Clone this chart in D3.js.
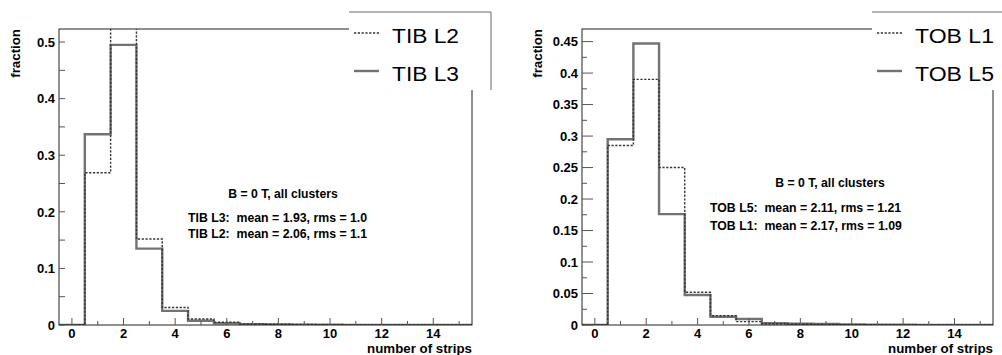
<!DOCTYPE html>
<html><head><meta charset="utf-8">
<script src="https://cdn.jsdelivr.net/npm/d3@7"></script>
<style>
html,body{margin:0;padding:0;background:#fff;}
svg{display:block;font-family:"Liberation Sans",Arial,Helvetica,sans-serif;}
</style></head>
<body><svg id="c" width="1002" height="355"></svg>
<script>
// ---- data ----
const binCenters = d3.range(0, 16); // number of strips 0..15
const tibL3 = [0, 0.337, 0.495, 0.135, 0.025, 0.0076, 0.003, 0.0015, 0.001, 0.0006, 0.0004, 0.0003, 0.0002, 0.0001, 0.0001, 0.0001];
const tibL2 = [0, 0.269, 0.53, 0.152, 0.031, 0.0106, 0.0048, 0.002, 0.0012, 0.0008, 0.0005, 0.0003, 0.0002, 0.0001, 0.0001, 0.0001];
const tobL5 = [0, 0.295, 0.447, 0.176, 0.0476, 0.0132, 0.0095, 0.0027, 0.002, 0.0015, 0.0008, 0.0005, 0.0003, 0.0002, 0.0001, 0.0001];
const tobL1 = [0, 0.285, 0.39, 0.25, 0.052, 0.0148, 0.0053, 0.002, 0.0015, 0.0008, 0.0005, 0.0003, 0.0002, 0.0001, 0.0001, 0.0001];
const xTickLabels = [0, 2, 4, 6, 8, 10, 12, 14];
const leftYTicks = [0, 0.1, 0.2, 0.3, 0.4, 0.5];
const rightYTicks = [0, 0.05, 0.1, 0.15, 0.2, 0.25, 0.3, 0.35, 0.4, 0.45];
const leftNames = ["TIB L2", "TIB L3"];
const rightNames = ["TOB L1", "TOB L5"];
const leftNotes = ["B = 0 T, all clusters", "TIB L3:  mean = 1.93, rms = 1.0", "TIB L2:  mean = 2.06, rms = 1.1"];
const rightNotes = ["B = 0 T, all clusters", "TOB L5:  mean = 2.11, rms = 1.21", "TOB L1:  mean = 2.17, rms = 1.09"];

const svg = d3.select("#c");

function panel(cfg, idx) {
  const g = svg.append("g");
  const x = d3.scaleLinear().domain([-0.5, 15.5]).range([cfg.x0, cfg.x1]);
  const y = d3.scaleLinear().domain([0, cfg.ymax]).range([cfg.y1, cfg.y0]);
  const clipId = "clip" + idx;
  svg.append("defs").append("clipPath").attr("id", clipId)
    .append("rect").attr("x", cfg.x0).attr("y", cfg.y0).attr("width", cfg.x1 - cfg.x0).attr("height", cfg.y1 - cfg.y0);

  // step path
  function stepPath(vals) {
    const p = d3.path();
    vals.forEach((v, i) => {
      const xl = x(binCenters[i] - 0.5), xr = x(binCenters[i] + 0.5);
      if (i === 0) p.moveTo(xl, y(v)); else p.lineTo(xl, y(v));
      p.lineTo(xr, y(v));
    });
    return p.toString();
  }
  const hg = g.append("g").attr("clip-path", `url(#${clipId})`);
  hg.append("path").attr("d", stepPath(cfg.solid)).attr("fill", "none")
    .attr("stroke", "#737373").attr("stroke-width", 2.4);
  hg.append("path").attr("d", stepPath(cfg.dotted)).attr("fill", "none")
    .attr("stroke", "#333").attr("stroke-width", 1.4).attr("stroke-dasharray", "2.2,1.6");

  // frame
  g.append("rect").attr("x", cfg.x0).attr("y", cfg.y0).attr("width", cfg.x1 - cfg.x0).attr("height", cfg.y1 - cfg.y0)
    .attr("fill", "none").attr("stroke", "#222").attr("stroke-width", 1);

  // y ticks (inside)
  const yMinor = d3.range(0, cfg.ymax, cfg.minorStep);
  yMinor.forEach(v => {
    const major = cfg.yTicks.some(t => Math.abs(t - v) < 1e-9);
    g.append("line").attr("x1", cfg.x0).attr("x2", cfg.x0 + (major ? cfg.majorLen : cfg.minorLen))
      .attr("y1", y(v)).attr("y2", y(v)).attr("stroke", "#555").attr("stroke-width", 1);
  });
  cfg.yTicks.forEach(v => {
    g.append("text").attr("x", cfg.x0 - 4).attr("y", y(v) + 4.8).attr("text-anchor", "end")
      .attr("font-size", 13).attr("font-weight", "bold").text(String(v));
  });
  // x ticks
  binCenters.forEach(v => {
    const major = v % 2 === 0;
    g.append("line").attr("x1", x(v)).attr("x2", x(v)).attr("y1", cfg.y1).attr("y2", cfg.y1 - (major ? 7 : 4))
      .attr("stroke", "#555").attr("stroke-width", 1);
  });
  xTickLabels.forEach(v => {
    g.append("text").attr("x", x(v)).attr("y", 337.5).attr("text-anchor", "middle")
      .attr("font-size", 13).attr("font-weight", "bold").text(String(v));
  });
  // axis titles
  g.append("text").attr("x", cfg.x1).attr("y", 353).attr("text-anchor", "end")
    .attr("font-size", 13.3).attr("font-weight", "bold").text("number of strips");
  g.append("text").attr("transform", `translate(${cfg.ylabX},${cfg.y0}) rotate(-90)`)
    .attr("text-anchor", "end").attr("font-size", 13.3).attr("font-weight", "bold").text("fraction");

  // notes
  g.append("text").attr("x", cfg.noteCx).attr("y", cfg.noteY[0]).attr("text-anchor", "middle")
    .attr("font-size", 12.2).attr("font-weight", "bold").text(cfg.notes[0]);
  [1, 2].forEach(i => {
    g.append("text").attr("x", cfg.noteX).attr("y", cfg.noteY[i]).attr("font-size", 12.3)
      .attr("font-weight", "bold").attr("xml:space", "preserve").style("white-space", "pre").text(cfg.notes[i]);
  });

  // legend
  const L = cfg.leg;
  g.append("rect").attr("x", L.x).attr("y", L.y).attr("width", L.w).attr("height", L.h).attr("fill", "#fff");
  g.append("line").attr("x1", L.x).attr("x2", L.x + L.w).attr("y1", L.y).attr("y2", L.y).attr("stroke", "#666");
  g.append("line").attr("x1", L.x + L.w).attr("x2", L.x + L.w).attr("y1", L.y).attr("y2", L.y + L.h).attr("stroke", "#666");
  g.append("line").attr("x1", L.x + 5).attr("x2", L.x + 30).attr("y1", 33).attr("y2", 33)
    .attr("stroke", "#333").attr("stroke-width", 1.4).attr("stroke-dasharray", "2.2,1.6");
  g.append("line").attr("x1", L.x + 5).attr("x2", L.x + 30).attr("y1", 71).attr("y2", 71)
    .attr("stroke", "#737373").attr("stroke-width", 2.4);
  cfg.names.forEach((n, i) => {
    g.append("text").attr("x", L.x + 43).attr("y", i === 0 ? 42.5 : 81)
      .attr("font-size", 20.5).attr("textLength", L.tl).attr("lengthAdjust", "spacingAndGlyphs").text(n);
  });
}

panel({x0: 59, x1: 472, y0: 29, y1: 325, ymax: 0.523, solid: tibL3, dotted: tibL2,
  yTicks: leftYTicks, minorStep: 0.05, majorLen: 6, minorLen: 6, ylabX: 19.5,
  notes: leftNotes, noteCx: 283, noteX: 188, noteY: [198, 221.5, 238.3],
  names: leftNames, leg: {x: 349, y: 12, w: 142, h: 78, tl: 67}}, 0);

panel({x0: 582, x1: 993, y0: 29, y1: 325, ymax: 0.47, solid: tobL5, dotted: tobL1,
  yTicks: rightYTicks, minorStep: 0.025, majorLen: 11, minorLen: 5, ylabX: 542,
  notes: rightNotes, noteCx: 830, noteX: 710, noteY: [186.5, 211.5, 230],
  names: rightNames, leg: {x: 872, y: 12, w: 140, h: 78, tl: 79}}, 1);
</script>
</body></html>
